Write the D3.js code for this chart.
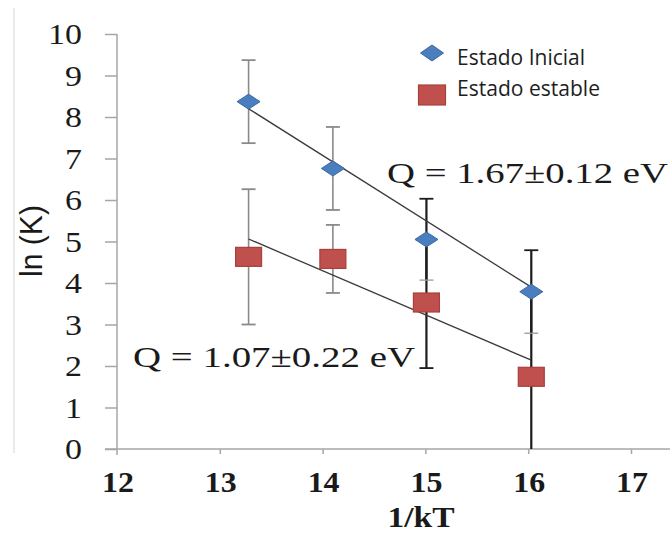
<!DOCTYPE html>
<html>
<head>
<meta charset="utf-8">
<script src="https://cdn.jsdelivr.net/npm/d3@7"></script>
<style>
  body { margin: 0; background: #fff; }
  svg { display: block; }
</style>
</head>
<body>
<script>
// values
const invKT = [13.28, 14.10, 15.01, 16.03];
const lnKInicial = [8.37, 6.76, 5.05, 3.79];
const errInicial = [1.0, 1.0, 0.98, 1.0];
const lnKEstable = [4.63, 4.58, 3.53, 1.74];
const errEstable = [1.63, 0.82, 1.58, 2.05];
const fitX = [13.28, 16.03];
const fitInicial = [8.2, 3.9];
const fitEstable = [5.06, 2.14];
const seriesNames = ["Estado Inicial", "Estado estable"];
const qLabels = ["Q = 1.67±0.12 eV", "Q = 1.07±0.22 eV"];
const xTicks = [12, 13, 14, 15, 16, 17];
const yTicks = [0, 1, 2, 3, 4, 5, 6, 7, 8, 9, 10];

const width = 670, height = 533;
const SX = 1.17; // picture is stretched sideways, so is its text
const serif = "'Liberation Serif', 'Times New Roman', serif";
const sans = "'Open Sans', 'Liberation Sans', sans-serif";
const blue = "#4a7ebf", blueEdge = "#3b69a6";
const red = "#c0504d", redEdge = "#a8403d";
const axisGrey = "#a6a6a6";

const svg = d3.select("body").append("svg")
  .attr("width", width)
  .attr("height", height);

const x = d3.scaleLinear().domain([12, 17]).range([117, 631]);
const y = d3.scaleLinear().domain([0, 10]).range([449, 34]);

// faint frame line left over on the left side of the picture
svg.append("line")
  .attr("x1", 14).attr("x2", 14).attr("y1", 8).attr("y2", 453)
  .attr("stroke", "#e3e3e3").attr("stroke-width", 1.5);

// axes (ticks only, domain lines drawn by hand so they can overshoot)
const gy = svg.append("g")
  .attr("transform", `translate(${x(12)},0)`)
  .call(d3.axisLeft(y).tickValues(yTicks).tickSize(12).tickSizeOuter(0).tickFormat(""));
const gx = svg.append("g")
  .attr("transform", `translate(0,${y(0)})`)
  .call(d3.axisBottom(x).tickValues(xTicks.slice(1)).tickSize(5).tickSizeOuter(0).tickFormat(""));
[gx, gy].forEach(g => {
  g.select(".domain").remove();
  g.selectAll(".tick line").attr("stroke", axisGrey).attr("stroke-width", 1.5);
});
svg.append("line")
  .attr("x1", x(12)).attr("x2", x(12)).attr("y1", y(10)).attr("y2", y(0) + 6)
  .attr("stroke", axisGrey).attr("stroke-width", 1.5);
svg.append("line")
  .attr("x1", x(12) - 12).attr("x2", width).attr("y1", y(0)).attr("y2", y(0))
  .attr("stroke", axisGrey).attr("stroke-width", 1.5);

// tick labels
svg.selectAll("text.ylab")
  .data(yTicks)
  .enter().append("text")
  .attr("class", "ylab")
  .attr("transform", d => `translate(82,${y(d) + 10}) scale(${SX},1)`)
  .attr("text-anchor", "end")
  .attr("font-family", serif)
  .attr("font-size", 29)
  .attr("fill", "#1a1a1a")
  .text(d => d);

svg.selectAll("text.xlab")
  .data(xTicks)
  .enter().append("text")
  .attr("class", "xlab")
  .attr("transform", d => `translate(${x(d) + 1},492) scale(1.1,1)`)
  .attr("text-anchor", "middle")
  .attr("font-family", serif)
  .attr("font-weight", "bold")
  .attr("font-size", 29)
  .attr("fill", "#1a1a1a")
  .text(d => d);

// axis titles
svg.append("text")
  .attr("transform", "translate(421,527)")
  .attr("text-anchor", "middle")
  .attr("font-family", serif)
  .attr("font-weight", "bold")
  .attr("font-size", 29)
  .attr("textLength", 67)
  .attr("lengthAdjust", "spacingAndGlyphs")
  .attr("fill", "#1a1a1a")
  .text("1/kT");

svg.append("text")
  .attr("transform", `translate(42,241) rotate(-90) scale(1,${SX})`)
  .attr("text-anchor", "middle")
  .attr("font-family", "'Liberation Sans', Arial, sans-serif")
  .attr("font-size", 27)
  .attr("textLength", 72)
  .attr("lengthAdjust", "spacingAndGlyphs")
  .attr("fill", "#1a1a1a")
  .text("ln (K)");

// error bars
function errorBars(vals, errs, isInicial) {
  vals.forEach((v, i) => {
    const dark = invKT[i] >= 15;
    const col = dark ? "#1c1c1c" : "#8a8a8a";
    const lo = Math.max(0, v - errs[i]), hi = v + errs[i];
    const cx = x(invKT[i]);
    svg.append("line")
      .attr("x1", cx).attr("x2", cx).attr("y1", y(hi)).attr("y2", y(lo))
      .attr("stroke", col).attr("stroke-width", dark ? 2.2 : 1.6);
    svg.append("line")
      .attr("x1", cx - 7).attr("x2", cx + 7).attr("y1", y(hi)).attr("y2", y(hi))
      .attr("stroke", col).attr("stroke-width", 1.8);
    if (v - errs[i] > 0) {
      const capCol = dark && isInicial ? "#9a9a9a" : col;
      svg.append("line")
        .attr("x1", cx - 7).attr("x2", cx + 7).attr("y1", y(lo)).attr("y2", y(lo))
        .attr("stroke", capCol).attr("stroke-width", dark && isInicial ? 1.3 : 1.8);
    }
  });
}
errorBars(lnKEstable, errEstable, false);
errorBars(lnKInicial, errInicial, true);

// fitted lines
const line = d3.line().x(d => x(d[0])).y(d => y(d[1]));
[fitInicial, fitEstable].forEach(f => {
  svg.append("path")
    .attr("d", line(fitX.map((fx, i) => [fx, f[i]])))
    .attr("fill", "none")
    .attr("stroke", "#3a3a3a")
    .attr("stroke-width", 1.3);
});

// markers
function diamond(g, cx, cy, w, h) {
  g.append("path")
    .attr("d", `M${cx - w / 2},${cy} L${cx},${cy - h / 2} L${cx + w / 2},${cy} L${cx},${cy + h / 2} Z`)
    .attr("fill", blue).attr("stroke", blueEdge).attr("stroke-width", 1);
}
function square(g, cx, cy, w, h) {
  g.append("rect")
    .attr("x", cx - w / 2).attr("y", cy - h / 2).attr("width", w).attr("height", h)
    .attr("fill", red).attr("stroke", redEdge).attr("stroke-width", 1.2);
}
lnKEstable.forEach((v, i) => square(svg, x(invKT[i]), y(v), 26, 19));
lnKInicial.forEach((v, i) => diamond(svg, x(invKT[i]), y(v), 23, 15));

// activation energy labels
svg.append("text")
  .attr("x", 387).attr("y", 183)
  .attr("font-family", serif).attr("font-size", 29)
  .attr("textLength", 281).attr("lengthAdjust", "spacingAndGlyphs")
  .attr("fill", "#1a1a1a")
  .text(qLabels[0]);
svg.append("text")
  .attr("x", 133).attr("y", 367)
  .attr("font-family", serif).attr("font-size", 29)
  .attr("textLength", 282).attr("lengthAdjust", "spacingAndGlyphs")
  .attr("fill", "#1a1a1a")
  .text(qLabels[1]);

// legend
diamond(svg, 432, 53, 23, 16);
square(svg, 432, 95, 27, 20);
const legendLen = [128, 143];
seriesNames.forEach((name, i) => {
  svg.append("text")
    .attr("x", 457).attr("y", 65 + i * 31)
    .attr("font-family", sans).attr("font-size", 22)
    .attr("textLength", legendLen[i]).attr("lengthAdjust", "spacingAndGlyphs")
    .attr("fill", "#1e1e1e")
    .text(name);
});
</script>
</body>
</html>
